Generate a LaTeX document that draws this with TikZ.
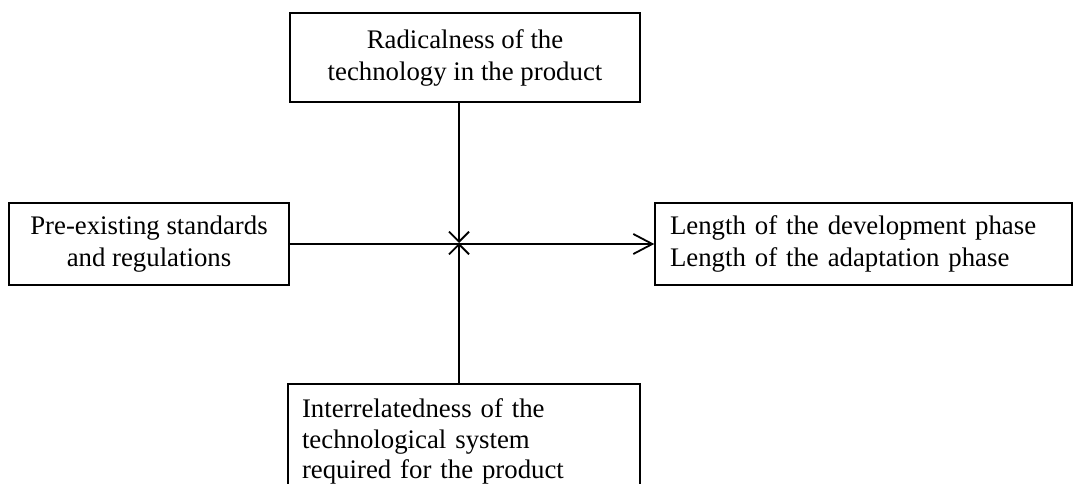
\documentclass[tikz,border=0pt]{standalone}
\usepackage{fontspec}
\setmainfont{Liberation Serif}
\usetikzlibrary{arrows.meta}

\tikzset{
  factor/.style={draw, line width=1.5pt, inner sep=0pt, font=\fontsize{26.8}{32}\selectfont},
  link/.style={line width=1.8pt},
  tip/.style={-{Straight Barb[length=10pt,width=20pt,line width=1.8pt]}},
  mainarrow/.style={-{Straight Barb[length=19pt,width=20pt,line width=1.8pt]}}
}

\begin{document}
\begin{tikzpicture}[x=1pt, y=-1pt]
\useasboundingbox (0,0) rectangle (1073,484);

% the four factors
\node[factor, minimum width=350, minimum height=89, align=center] (radical) at (465,57.5)
  {Radicalness of the\\technology in the product};
\node[factor, minimum width=280, minimum height=82, align=center] (standards) at (149,244)
  {Pre-existing standards\\and regulations};
\node[factor, minimum width=417, minimum height=82, text width=387, align=left] (lengths) at (863.5,244)
  {Length of the development phase\\Length of the adaptation phase};
\node[factor, anchor=north, minimum width=352, text width=324, align=left,
  font=\fontsize{26.8}{30.5}\selectfont, text height=34pt, text depth=100pt] (interrel) at (464,383)
  {Interrelatedness of the\\technological system\\required for the product};

% meeting point of the lines
\coordinate (c) at (459,243);

% main arrow and the two moderators
\draw[link, mainarrow] (standards.east) -- (lengths.west);
\draw[link, tip] (c |- radical.south) -- (c);
\draw[link, tip] (c |- interrel.north) -- (c);
\end{tikzpicture}
\end{document}
